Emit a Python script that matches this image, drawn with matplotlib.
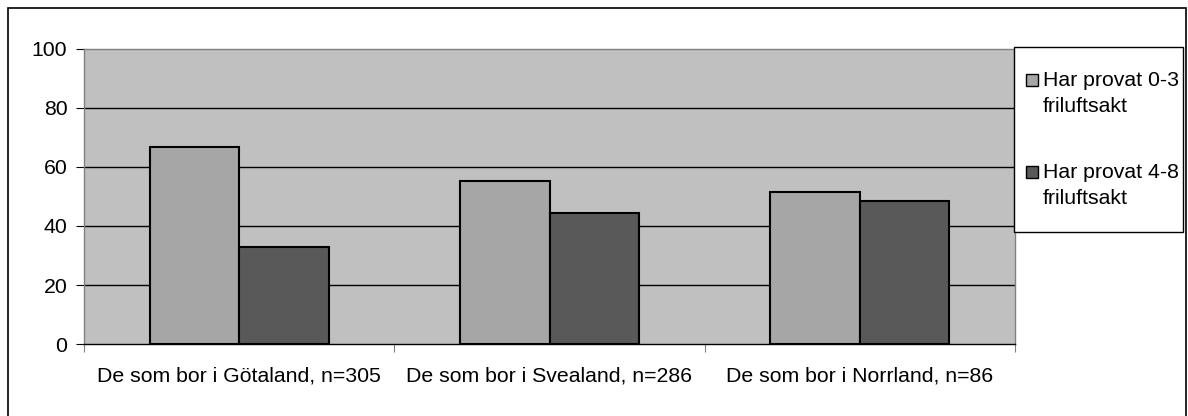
import matplotlib
matplotlib.use("Agg")
import matplotlib.pyplot as plt
from matplotlib.patches import Rectangle
import numpy as np

categories = ["De som bor i Götaland, n=305",
              "De som bor i Svealand, n=286",
              "De som bor i Norrland, n=86"]
series_names = ["Har provat 0-3\nfriluftsakt", "Har provat 4-8\nfriluftsakt"]
low_vals = [66.8, 55.3, 51.4]
high_vals = [33.0, 44.5, 48.6]
yticks = [0, 20, 40, 60, 80, 100]

LIGHT = "#a6a6a6"
DARK = "#595959"
PLOT_BG = "#c0c0c0"
W, H = 1188, 416

plt.rcParams["font.family"] = ["Liberation Sans", "DejaVu Sans"]
plt.rcParams["font.size"] = 15.3

fig = plt.figure(figsize=(11.88, 4.16), dpi=100)
ax = fig.add_axes([84 / W, 1 - 344.3 / H, (1015 - 84) / W, (344.3 - 48.5) / H])
ax.set_facecolor(PLOT_BG)

x = np.arange(len(categories))
w = 0.288
ax.bar(x - w / 2, low_vals, w, color=LIGHT, edgecolor="black", linewidth=1.5, zorder=3)
ax.bar(x + w / 2, high_vals, w, color=DARK, edgecolor="black", linewidth=1.5, zorder=3)

ax.set_xlim(-0.5, len(categories) - 0.5)
ax.set_ylim(0, 100)
ax.set_yticks(yticks)
ax.set_xticks(np.arange(len(categories) + 1) - 0.5)
ax.set_xticklabels([])
ax.set_xticks(x, minor=True)
ax.set_xticklabels(categories, minor=True)
ax.tick_params(axis="x", which="minor", length=0, pad=16)
ax.tick_params(axis="x", which="major", length=6, direction="out", color="#808080")
ax.tick_params(axis="y", length=6, direction="out", pad=6)

for v in yticks[1:-1]:
    ax.axhline(v, color="black", linewidth=1, zorder=1)

for side in ["top", "right", "left"]:
    ax.spines[side].set_color("#808080")
    ax.spines[side].set_linewidth(1)
ax.spines["bottom"].set_color("black")
ax.spines["bottom"].set_linewidth(1)

# outer chart border
fig.patches.append(Rectangle((8 / W, -0.01), (1186 - 8) / W, 1 - 8 / H + 0.01,
                             transform=fig.transFigure, fill=False,
                             edgecolor="black", linewidth=1.2))
# legend box, drawn by hand to get Excel-like spacing
fig.patches.append(Rectangle((1014 / W, 1 - 232 / H), (1183 - 1014) / W, (232 - 47) / H,
                             transform=fig.transFigure, facecolor="white",
                             edgecolor="black", linewidth=1, zorder=5))
for name, col, y0 in zip(series_names, [LIGHT, DARK], [80, 172]):
    fig.patches.append(Rectangle((1026 / W, 1 - (y0 + 6) / H), 12 / W, 12 / H,
                                 transform=fig.transFigure, facecolor=col,
                                 edgecolor="black", linewidth=1, zorder=6))
    for i, line in enumerate(name.split("\n")):
        fig.text(1043 / W, 1 - (y0 + 27 * i) / H, line, ha="left", va="center", zorder=7)

fig.savefig("out.png", dpi=100)
